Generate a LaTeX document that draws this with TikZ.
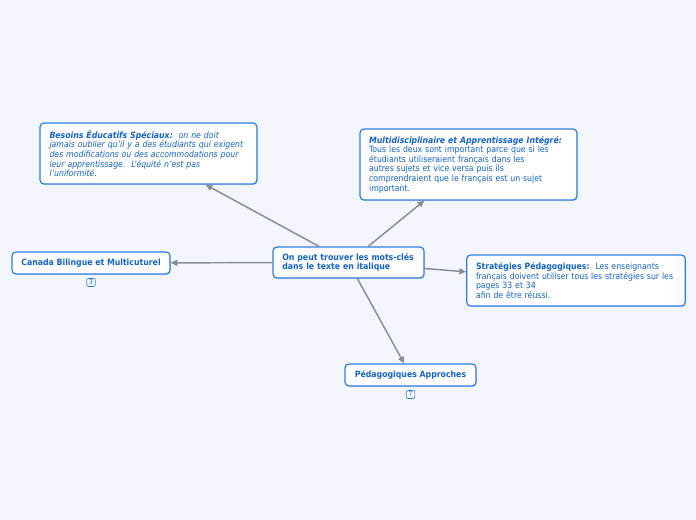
\documentclass[tikz,border=0pt]{standalone}
\usepackage{fontspec}
\setmainfont{DejaVu Sans Condensed}
\usetikzlibrary{arrows.meta,shadows}
\definecolor{bgc}{RGB}{243,246,253}
\definecolor{boxblue}{RGB}{45,125,225}
\definecolor{txtblue}{RGB}{20,100,200}
\definecolor{conn}{RGB}{135,142,152}
\tikzset{
  box/.style={draw=boxblue, line width=0.9pt, rounded corners=3pt, fill=white,
    text=txtblue, font=\fontsize{6.5}{7.2}\selectfont, align=left, inner xsep=7pt, inner ysep=2pt,
    drop shadow={shadow xshift=0.6pt, shadow yshift=-0.8pt, fill=black!22, opacity=0.6}},
  cbox/.style={box, align=center, font=\fontsize{6.5}{7.2}\selectfont\bfseries},
  badge/.style={draw=boxblue, line width=0.5pt, rounded corners=1.5pt, fill=white, text=txtblue,
    font=\fontsize{5}{5}\selectfont, inner sep=0pt, minimum width=6.5pt, minimum height=6pt},
  link/.style={draw=conn, line width=1.1pt, -{Triangle[length=5pt,width=4.5pt]}}
}
\begin{document}
\begin{tikzpicture}[x=0.75pt,y=-0.75pt]
\fill[bgc] (0,0) rectangle (696,520);
\useasboundingbox (0,0) rectangle (696,520);

\node[box, minimum width=162.75pt, minimum height=45.75pt, text width=148.5pt] (b) at (148.5,153.5)
 {\itshape\textbf{Besoins Éducatifs Spéciaux:}\ \ on ne doit\\
  jamais oublier qu'il y a des étudiants qui exigent\\
  des modifications ou des accommodations pour\\
  leur apprentissage.\ \ L'équité n'est pas\\
  l'uniformité.};

\node[box, minimum width=162.75pt, minimum height=53.25pt, text width=149pt, inner xsep=6.75pt] (m) at (468.5,164.5)
 {\textbf{\itshape Multidisciplinaire et Apprentissage Intégré:}\\
  Tous les deux sont important parce que si les\\
  étudiants utiliseraient français dans les\\
  autres sujets et vice versa puis ils\\
  comprendraient que le français est un sujet\\
  important.};

\node[box, minimum width=113.25pt, minimum height=23.25pt, text width=99.25pt, font=\fontsize{6.5}{7.2}\selectfont\bfseries] (c) at (348.5,262.5)
 {On peut trouver les mots-clés\\dans le texte en italique};

\node[box, minimum width=163.5pt, minimum height=38.25pt, text width=150pt] (s) at (576,280.5)
 {\textbf{Stratégies Pédagogiques:}\ \ Les enseignants\\
  français doivent utiliser tous les stratégies sur les\\
  pages 33 et 34\\
  afin de être réussi.};

\node[cbox, minimum width=118.5pt, minimum height=16.5pt] (cb) at (91,263) {Canada Bilingue et Multicuturel};
\node[cbox, minimum width=98.25pt, minimum height=16.5pt] (pa) at (410.5,375) {Pédagogiques Approches};

\node[badge] (n3) at (91,282.5) {3};
\node[badge] (n7) at (410.5,394.5) {7};

\draw[link] (c) -- (b);
\draw[link] (c) -- (m);
\draw[link] (c) -- (cb);
\draw[link] (c) -- (s);
\draw[link] (c) -- (pa);
\end{tikzpicture}
\end{document}
